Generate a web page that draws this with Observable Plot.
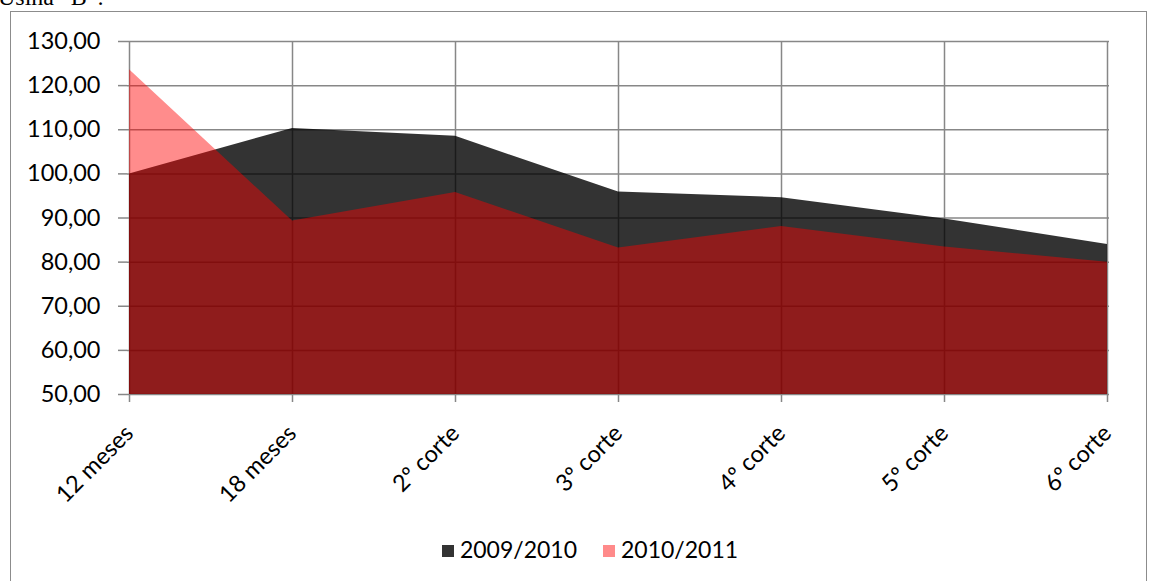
<!DOCTYPE html>
<html>
<head>
<meta charset="utf-8">
<script src="https://cdn.jsdelivr.net/npm/d3@7"></script>
<script src="https://cdn.jsdelivr.net/npm/@observablehq/plot@0.6"></script>
<style>
  html, body { margin: 0; padding: 0; background: #fff; width: 1150px; height: 581px; overflow: hidden; }
  #wrap { position: relative; width: 1150px; height: 581px; }
  #frame { position: absolute; left: 10px; top: 11px; width: 1137px; height: 600px; border: 1.5px solid #8c8c8c; box-sizing: border-box; }
  #title { position: absolute; left: -2px; top: -16px; font-family: "Liberation Serif", "Times New Roman", serif; font-size: 24px; color: #000; white-space: nowrap; }
  #chart { position: absolute; left: 0; top: 0; }
  #legend { position: absolute; top: 535px; left: 0; width: 1180px; text-align: center; font-family: Lato, "Open Sans", sans-serif; font-size: 23px; color: #000; }
  .item { display: inline-block; margin: 0 13px; }
  .sw { display: inline-block; width: 12px; height: 12px; margin-right: 6px; vertical-align: 1px; }
</style>
</head>
<body>
<div id="wrap">
  <div id="title">Usina “B”:</div>
  <div id="frame"></div>
  <div id="chart"></div>
  <div id="legend"></div>
</div>
<script>
const categories = ["12 meses", "18 meses", "2º corte", "3º corte", "4º corte", "5º corte", "6º corte"];
const series2009 = [100.0, 110.3, 108.5, 95.9, 94.6, 89.8, 84.0];
const series2010 = [123.6, 89.3, 95.8, 83.2, 88.1, 83.4, 80.0];
const seriesNames = ["2009/2010", "2010/2011"];
const yTicks = [50, 60, 70, 80, 90, 100, 110, 120, 130];

const data2009 = categories.map((c, i) => ({cat: c, v: series2009[i]}));
const data2010 = categories.map((c, i) => ({cat: c, v: series2010[i]}));
const fmt = v => d3.format(".2f")(v).replace(".", ",");
const gridColor = "#878787";

const chart = Plot.plot({
  width: 1150,
  height: 581,
  marginLeft: 127,
  marginRight: 41,
  marginTop: 41,
  marginBottom: 187,
  style: {fontFamily: "Lato, 'Open Sans', sans-serif", fontSize: "23.5px", color: "#000", background: "transparent", overflow: "visible"},
  x: {type: "point", domain: categories, padding: 0},
  y: {domain: [yTicks[0], yTicks[yTicks.length - 1]]},
  marks: [
    Plot.ruleX(categories, {x: d => d, y1: yTicks[0], y2: yTicks[yTicks.length - 1], stroke: gridColor, strokeWidth: 1.5}),
    Plot.ruleY(yTicks, {stroke: gridColor, strokeWidth: 1.5}),
    Plot.areaY(data2009, {x: "cat", y1: yTicks[0], y2: "v", fill: "#000", fillOpacity: 0.8}),
    Plot.areaY(data2010, {x: "cat", y1: yTicks[0], y2: "v", fill: "#ff0000", fillOpacity: 0.45}),
    Plot.axisY({ticks: yTicks, tickFormat: fmt, tickSize: 9, tickPadding: 18, stroke: gridColor, strokeWidth: 1.5, label: null}),
    Plot.axisX({tickSize: 8, tickPadding: 27, tickRotate: -45, stroke: gridColor, strokeWidth: 1.5, label: null})
  ]
});
document.getElementById("chart").appendChild(chart);

const legendColors = ["#333333", "#ff8a8a"];
const legend = document.getElementById("legend");
seriesNames.forEach((name, i) => {
  const item = document.createElement("span");
  item.className = "item";
  item.innerHTML = `<span class="sw" style="background:${legendColors[i]}"></span>${name}`;
  legend.appendChild(item);
});
</script>
</body>
</html>
